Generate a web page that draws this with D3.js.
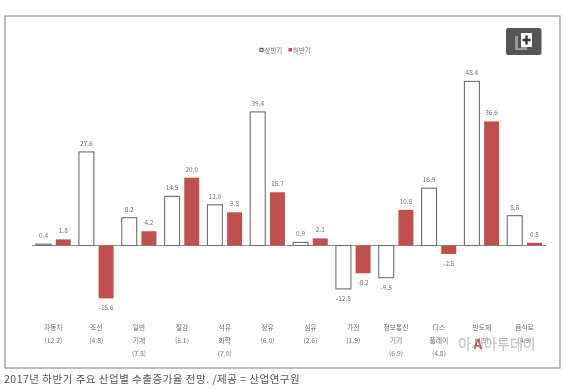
<!DOCTYPE html>
<html>
<head>
<meta charset="utf-8">
<script src="https://d3js.org/d3.v7.min.js"></script>
<style>
html, body { margin: 0; padding: 0; background: #fff; }
svg { display: block; font-family: "Noto Sans CJK KR", "Noto Sans", sans-serif; }
</style>
</head>
<body>
<svg id="svg" width="567" height="390"></svg>
<script>
const categories = [
    ['자동차', '(12.2)'], ['조선', '(4.8)'], ['일반', '기계', '(7.5)'], ['철강', '(6.1)'],
    ['석유', '화학', '(7.0)'], ['정유', '(6.0)'], ['섬유', '(2.6)'], ['가전', '(1.9)'],
    ['정보통신', '기기', '(6.9)'], ['디스', '플레이', '(4.8)'], ['반도체', '(4.9)'], ['음식료', '(4.9)']
];
const firstHalf = [0.4, 27.6, 8.2, 14.5, 12.0, 39.4, 0.9, -12.8, -9.5, 16.9, 48.4, 8.8];
const secondHalf = [1.8, -15.6, 4.2, 20.0, 9.8, 15.7, 2.1, -8.2, 10.5, -2.5, 36.6, 0.8];
const seriesNames = ['상반기', '하반기'];
const caption = '2017년 하반기 주요 산업별 수출증가율 전망. /제공 = 산업연구원';
const watermark = '아시아투데이';

const red = '#c0504d', labelColor = '#707070';
const svg = d3.select('#svg');

// outer frame
svg.append('rect').attr('x', 5).attr('y', 16).attr('width', 555).attr('height', 352)
    .attr('fill', '#fff').attr('stroke', '#929292').attr('stroke-width', 1.2);

const x = d3.scaleBand().domain(d3.range(categories.length)).range([32, 546]).paddingInner(0);
const y = d3.scaleLinear().domain([-20, 50]).range([245.5 + 20 * 3.39, 245.5 - 50 * 3.39]);
const inner = d3.scaleBand().domain([0, 1]).range([0, x.bandwidth()]).paddingInner(0.24).paddingOuter(0.207);

const g = svg.append('g').style('filter', 'blur(0.4px)');

// zero line
g.append('line').attr('x1', x.range()[0]).attr('x2', x.range()[1])
    .attr('y1', y(0)).attr('y2', y(0)).attr('stroke', '#8c8c8c').attr('stroke-width', 1);

function drawSeries(values, idx) {
    const cls = 's' + idx;
    g.selectAll('rect.' + cls).data(values).join('rect')
        .attr('class', cls)
        .attr('x', (d, i) => x(i) + inner(idx))
        .attr('width', inner.bandwidth())
        .attr('y', d => Math.min(y(d), y(0)))
        .attr('height', d => Math.abs(y(d) - y(0)))
        .attr('fill', idx ? red : '#fff')
        .attr('stroke', idx ? 'none' : '#6e6e6e')
        .attr('stroke-width', idx ? 0 : 1.1);

    g.selectAll('text.' + cls).data(values).join('text')
        .attr('class', cls)
        .attr('x', (d, i) => x(i) + inner(idx) + inner.bandwidth() / 2)
        .attr('y', d => d >= 0 ? y(d) - 6 : y(d) + 12)
        .attr('text-anchor', 'middle')
        .attr('font-size', 6.5)
        .attr('fill', labelColor)
        .text(d => d.toFixed(1));
}
drawSeries(firstHalf, 0);
drawSeries(secondHalf, 1);

// category labels
const cat = g.selectAll('g.cat').data(categories).join('g').attr('class', 'cat')
    .attr('transform', (d, i) => `translate(${x(i) + x.bandwidth() / 2},0)`);
cat.selectAll('text').data(d => d).join('text')
    .attr('y', (d, i) => 329.5 + i * 13.3)
    .attr('text-anchor', 'middle')
    .attr('font-size', 6.8)
    .attr('fill', labelColor)
    .text(d => d);

// legend
const legend = g.append('g').attr('transform', 'translate(260,50)');
legend.append('rect').attr('x', 0).attr('y', -1.7).attr('width', 3).attr('height', 3)
    .attr('fill', '#fff').attr('stroke', '#444').attr('stroke-width', 1);
legend.append('text').attr('x', 4.5).attr('y', 2.5).attr('font-size', 6.4).attr('fill', labelColor).text(seriesNames[0]);
legend.append('rect').attr('x', 28.5).attr('y', -2).attr('width', 3.5).attr('height', 3.5).attr('fill', red);
legend.append('text').attr('x', 33).attr('y', 2.5).attr('font-size', 6.4).attr('fill', labelColor).text(seriesNames[1]);

// zoom button
const btn = svg.append('g').attr('transform', 'translate(506,28)').style('filter', 'blur(0.4px)');
btn.append('rect').attr('width', 35.5).attr('height', 27).attr('rx', 2.5).attr('fill', '#555');
btn.append('rect').attr('x', 9).attr('y', 8).attr('width', 12).attr('height', 14).attr('fill', '#999');
btn.append('rect').attr('x', 12).attr('y', 6).attr('width', 3).attr('height', 14).attr('fill', '#555');
btn.append('rect').attr('x', 15).attr('y', 5).attr('width', 11).attr('height', 14).attr('fill', '#fff');
btn.append('path').attr('d', 'M20.5 7.5v9M16.5 12h8').attr('stroke', '#333').attr('stroke-width', 2.4);

// watermark
const wm = svg.append('g').style('filter', 'blur(0.4px)');
wm.append('text').attr('x', 497).attr('y', 348.5).attr('text-anchor', 'middle')
    .attr('font-size', 14).attr('font-weight', 300)
    .attr('fill', '#fff').attr('fill-opacity', 0.55)
    .attr('stroke', '#b4b4b4').attr('stroke-width', 0.5)
    .text(watermark);
wm.append('text').attr('x', 478).attr('y', 349).attr('text-anchor', 'middle')
    .attr('font-size', 13).attr('font-weight', 700).attr('fill', '#c8434a').attr('fill-opacity', 0.85)
    .text('A');

// caption
svg.append('text').attr('x', 4).attr('y', 383).attr('font-size', 10.5)
    .attr('fill', '#555').attr('letter-spacing', 0.5)
    .style('filter', 'blur(0.3px)').text(caption);
</script>
</body>
</html>
